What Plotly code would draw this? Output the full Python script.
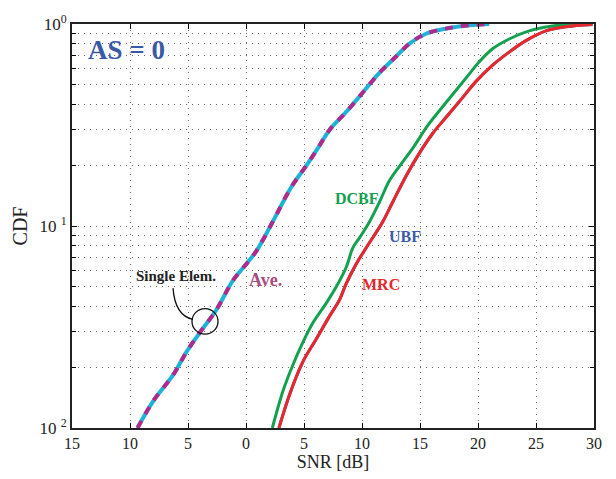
import plotly.graph_objects as go

# Single element / average (identical curves)
single_x = [-9.35, -8.0, -6.28, -5.13, -3.98, -2.55, -1.12, 0.03, 0.9, 2.13, 3.91, 5.2, 6.2, 7.2,
            8.64, 10.07, 11.5, 12.94, 14.09, 15.52, 17.24, 19.25, 20.97]
single_y = [0.01, 0.0136, 0.0183, 0.0238, 0.0297, 0.0385, 0.0538, 0.0649, 0.0753, 0.1005, 0.156,
            0.199, 0.243, 0.299, 0.367, 0.458, 0.573, 0.690, 0.800, 0.895, 0.949, 0.986, 1.0]
ave_x = single_x
ave_y = single_y

dcbf_x = [2.27, 3.18, 4.04, 4.91, 5.77, 6.92, 7.78, 8.64, 9.21, 9.78, 10.65, 11.51, 12.37, 13.51,
          14.43, 15.64, 16.67, 17.81, 18.97, 20.11, 21.26, 22.69, 24.41, 26.42, 27.57, 29.9]
dcbf_y = [0.01, 0.0152, 0.0205, 0.0266, 0.0332, 0.0415, 0.050, 0.0625, 0.078, 0.0873, 0.105,
          0.1315, 0.168, 0.2075, 0.245, 0.313, 0.372, 0.448, 0.540, 0.650, 0.754, 0.843, 0.925,
          0.978, 0.99, 1.0]

mrc_x = [2.84, 3.76, 4.91, 6.06, 7.2, 8.06, 8.64, 9.5, 10.36, 11.79, 12.65, 13.8, 14.95, 16.09,
         17.25, 18.67, 19.83, 21.26, 22.69, 24.13, 25.85, 27.57, 29.86]
mrc_y = [0.01, 0.01466, 0.0213, 0.0276, 0.0358, 0.0431, 0.0519, 0.0649, 0.078, 0.105, 0.1315,
         0.177, 0.2296, 0.287, 0.3455, 0.432, 0.520, 0.626, 0.726, 0.827, 0.925, 0.970, 0.995]
ubf_x = mrc_x
ubf_y = mrc_y

x_tickvals = [-15, -10, -5, 0, 5, 10, 15, 20, 25, 30]
x_ticktext = ["15", "10", "5", "0", "5", "10", "15", "20", "25", "30"]
y_tickvals = [0.01, 0.1, 1]
y_ticktext = ["10 <sup>2</sup>", "10 <sup>1</sup>", "10<sup>0</sup>"]
y_minor = [m * d for d in (0.01, 0.1) for m in range(2, 10)]

FONT = "Times New Roman, Liberation Serif, Times, serif"

fig = go.Figure()
fig.add_trace(go.Scatter(x=ubf_x, y=ubf_y, mode="lines", line=dict(color="#3b5ba9", width=3),
                         line_shape="spline", name="UBF"))
fig.add_trace(go.Scatter(x=dcbf_x, y=dcbf_y, mode="lines", line=dict(color="#13a04f", width=3),
                         line_shape="spline", name="DCBF"))
fig.add_trace(go.Scatter(x=mrc_x, y=mrc_y, mode="lines", line=dict(color="#e8282c", width=3),
                         line_shape="spline", name="MRC"))
fig.add_trace(go.Scatter(x=single_x, y=single_y, mode="lines", line=dict(color="#1eb3d6", width=4),
                         line_shape="spline", name="Single Elem."))
fig.add_trace(go.Scatter(x=ave_x, y=ave_y, mode="lines",
                         line=dict(color="#b02a8e", width=4, dash="8px,8px"),
                         line_shape="spline", name="Ave."))

GRIDC = "#6a6a6a"
GDASH = "1px,5px"
grid = dict(showgrid=True, gridcolor=GRIDC, gridwidth=1, griddash=GDASH)

fig.update_xaxes(range=[-15, 30], tickvals=x_tickvals, ticktext=x_ticktext,
                 ticks="inside", ticklen=5, tickcolor="black",
                 showline=True, linecolor="#222222", linewidth=2, mirror="ticks",
                 zeroline=False, tickfont=dict(family=FONT, size=16, color="#222"),
                 title=dict(text="SNR [dB]", font=dict(family=FONT, size=18, color="#222"), standoff=2),
                 **grid)
fig.update_yaxes(type="log", range=[-2, 0], tickvals=y_tickvals, ticktext=y_ticktext,
                 ticks="inside", ticklen=5, tickcolor="black",
                 showline=True, linecolor="#222222", linewidth=2, mirror="ticks",
                 zeroline=False, tickfont=dict(family=FONT, size=17, color="#222"),
                 title=dict(text="CDF", font=dict(family=FONT, size=20, color="#222"), standoff=6),
                 minor=dict(tickvals=y_minor, ticks="inside", ticklen=4, tickcolor="black",
                            showgrid=True, gridcolor=GRIDC, griddash=GDASH, gridwidth=1),
                 **grid)

def ann(text, x, y, color, size):
    fig.add_annotation(text=f"<b>{text}</b>", x=x, y=y, xref="paper", yref="paper",
                       showarrow=False, font=dict(family=FONT, size=size, color=color),
                       xanchor="center", yanchor="middle")

def px(p):
    return (p - 72) / 522

def py(p):
    return 1 - (p - 18) / 413

ann("AS = 0", px(126), py(45), "#3a5aa8", 27)
ann("Single Elem.", px(176), py(276), "#222222", 15)
ann("Ave.", px(265), py(280), "#a64d82", 18)
ann("DCBF", px(357), py(196), "#13a04f", 16)
ann("UBF", px(405), py(235), "#3b5ba9", 16)
ann("MRC", px(381), py(284), "#e8282c", 16)

fig.add_shape(type="circle", xref="paper", yref="paper",
              x0=px(192), x1=px(218), y0=py(335), y1=py(309),
              line=dict(color="#111", width=1.3))
fig.add_shape(type="path", xref="paper", yref="paper",
              path=f"M {px(173)},{py(288)} Q {px(175)},{py(316)} {px(193)},{py(320)}",
              line=dict(color="#111", width=1.3))

fig.update_layout(width=616, height=479, margin=dict(l=72, r=22, t=18, b=48),
                  plot_bgcolor="white", paper_bgcolor="white", showlegend=False)

fig.write_html("out.html")
